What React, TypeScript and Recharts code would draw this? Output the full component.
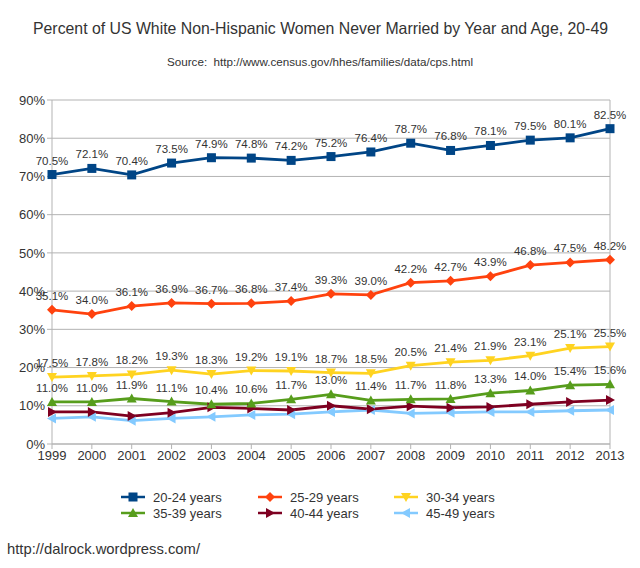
import React from "react"
import { CartesianGrid, LabelList, Line, LineChart, ReferenceLine, XAxis, YAxis } from "recharts"

const years = ["1999", "2000", "2001", "2002", "2003", "2004", "2005", "2006", "2007", "2008", "2009", "2010", "2011", "2012", "2013"]

const age2024 = [70.5, 72.1, 70.4, 73.5, 74.9, 74.8, 74.2, 75.2, 76.4, 78.7, 76.8, 78.1, 79.5, 80.1, 82.5]
const age2529 = [35.1, 34.0, 36.1, 36.9, 36.7, 36.8, 37.4, 39.3, 39.0, 42.2, 42.7, 43.9, 46.8, 47.5, 48.2]
const age3034 = [17.5, 17.8, 18.2, 19.3, 18.3, 19.2, 19.1, 18.7, 18.5, 20.5, 21.4, 21.9, 23.1, 25.1, 25.5]
const age3539 = [11.0, 11.0, 11.9, 11.1, 10.4, 10.6, 11.7, 13.0, 11.4, 11.7, 11.8, 13.3, 14.0, 15.4, 15.6]
const age4044 = [8.4, 8.4, 7.3, 8.2, 9.6, 9.3, 8.9, 10.0, 9.1, 9.9, 9.5, 9.7, 10.4, 11.0, 11.5]
const age4549 = [6.7, 7.1, 6.1, 6.7, 7.1, 7.6, 7.8, 8.4, 8.9, 8.0, 8.2, 8.4, 8.4, 8.7, 8.9]

const yTicks = [0, 10, 20, 30, 40, 50, 60, 70, 80, 90]

const series = [
  { key: "a2024", name: "20-24 years", values: age2024, color: "#004586", shape: "square", labels: true },
  { key: "a2529", name: "25-29 years", values: age2529, color: "#ff420e", shape: "diamond", labels: true },
  { key: "a3034", name: "30-34 years", values: age3034, color: "#ffd320", shape: "down", labels: true },
  { key: "a3539", name: "35-39 years", values: age3539, color: "#579d1c", shape: "up", labels: true },
  { key: "a4044", name: "40-44 years", values: age4044, color: "#7e0021", shape: "right", labels: false },
  { key: "a4549", name: "45-49 years", values: age4549, color: "#83caff", shape: "left", labels: false },
]

const data = years.map((year, i) => {
  const row: Record<string, string | number> = { year }
  series.forEach((s) => (row[s.key] = s.values[i]))
  return row
})

const FONT = "'Liberation Sans', Arial, sans-serif"
const TEXT = "#333333"
const GRID = "#b3b3b3"

function marker(shape: string, color: string, cx: number, cy: number, k?: any) {
  const r = 5
  switch (shape) {
    case "square":
      return <rect key={k} x={cx - 4.5} y={cy - 4.5} width={9} height={9} fill={color} />
    case "diamond":
      return <polygon key={k} points={`${cx},${cy - r} ${cx + r},${cy} ${cx},${cy + r} ${cx - r},${cy}`} fill={color} />
    case "down":
      return <polygon key={k} points={`${cx - r},${cy - 4} ${cx + r},${cy - 4} ${cx},${cy + r}`} fill={color} />
    case "up":
      return <polygon key={k} points={`${cx - r},${cy + 4} ${cx + r},${cy + 4} ${cx},${cy - r}`} fill={color} />
    case "right":
      return <polygon key={k} points={`${cx - 4},${cy - r} ${cx - 4},${cy + r} ${cx + r},${cy}`} fill={color} />
    default:
      return <polygon key={k} points={`${cx + 4},${cy - r} ${cx + 4},${cy + r} ${cx - r},${cy}`} fill={color} />
  }
}

function LegendBox() {
  const cols = [121, 258, 394]
  return (
    <div style={{ position: "absolute", left: 0, top: 489, width: 640, height: 36 }}>
      {series.map((s, i) => {
        const col = i % 3
        const row = Math.floor(i / 3)
        return (
          <div
            key={s.key}
            style={{
              position: "absolute",
              left: cols[col],
              top: row * 16,
              height: 16,
              display: "flex",
              alignItems: "center",
              fontFamily: FONT,
              fontSize: 13,
              color: TEXT,
              whiteSpace: "nowrap",
            }}
          >
            <svg width={24} height={12} style={{ marginRight: 8 }}>
              <line x1={0} y1={6} x2={24} y2={6} stroke={s.color} strokeWidth={2.5} />
              {marker(s.shape, s.color, 12, 6)}
            </svg>
            {s.name}
          </div>
        )
      })}
    </div>
  )
}

export default function App() {
  return (
    <div style={{ position: "absolute", left: 0, top: 0, width: 640, height: 568, background: "#fff" }}>
      <svg width={640} height={568} style={{ position: "absolute", left: 0, top: 0 }}>
        <text x={33} y={34} fontFamily={FONT} fontSize={16.5} fill={TEXT} textLength={575} lengthAdjust="spacingAndGlyphs">
          Percent of US White Non-Hispanic Women Never Married by Year and Age, 20-49
        </text>
        <text x={167} y={66} fontFamily={FONT} fontSize={11.5} fill={TEXT} textLength={306} lengthAdjust="spacingAndGlyphs" xmlSpace="preserve">
          {"Source:  http://www.census.gov/hhes/families/data/cps.html"}
        </text>
        <text x={7} y={554} fontFamily={FONT} fontSize={14.5} fill={TEXT} textLength={193} lengthAdjust="spacingAndGlyphs">
          http://dalrock.wordpress.com/
        </text>
      </svg>
      <div style={{ position: "absolute", left: 0, top: 0 }}>
        <LineChart width={640} height={568} data={data} margin={{ top: 100, right: 30, bottom: 94, left: 8 }}>
          <CartesianGrid horizontal vertical={false} stroke={GRID} />
          <XAxis
            dataKey="year"
            stroke={GRID}
            tickSize={5}
            height={30}
            tick={{ fill: TEXT, fontSize: 13, fontFamily: FONT }}
            interval={0}
          />
          <YAxis
            domain={[0, 90]}
            ticks={yTicks}
            width={44}
            stroke={GRID}
            tickSize={5}
            tickFormatter={(v) => `${v}%`}
            tick={{ fill: TEXT, fontSize: 13, fontFamily: FONT }}
          />
          <ReferenceLine x="2013" stroke={GRID} />
          {series
            .slice()
            .reverse()
            .map((s) => (
              <Line
                key={s.key}
                dataKey={s.key}
                name={s.name}
                stroke={s.color}
                strokeWidth={2.8}
                isAnimationActive={false}
                dot={(p: any) => marker(s.shape, s.color, p.cx, p.cy, p.index)}
                activeDot={false}
              >
                {s.labels && (
                  <LabelList
                    dataKey={s.key}
                    position="top"
                    offset={10}
                    formatter={(v: any) => `${Number(v).toFixed(1)}%`}
                    style={{ fill: TEXT, fontSize: 11.5, fontFamily: FONT }}
                  />
                )}
              </Line>
            ))}
        </LineChart>
      </div>
      <LegendBox />
    </div>
  )
}
